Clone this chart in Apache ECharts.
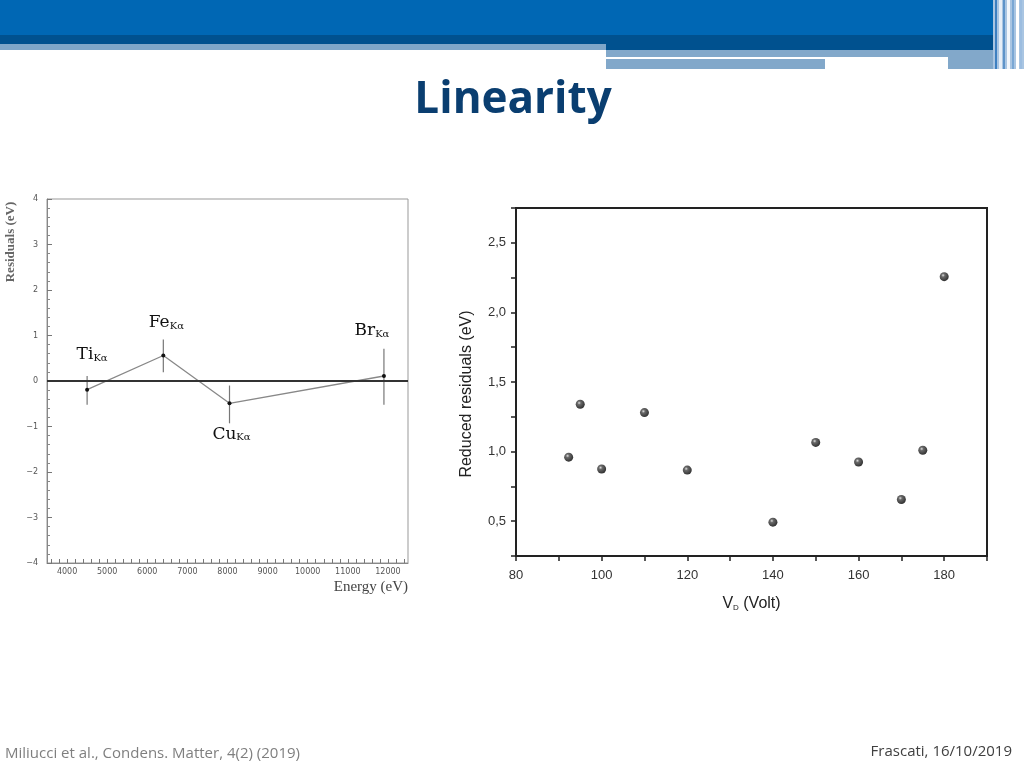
<!DOCTYPE html>
<html>
<head>
<meta charset="utf-8">
<script src="https://cdn.jsdelivr.net/npm/echarts@6/dist/echarts.min.js"></script>
<style>
  html, body { margin: 0; padding: 0; background: #fff; }
  #chart { width: 1024px; height: 768px; }
</style>
</head>
<body>
<div id="chart"></div>
<script>
// ---------- Left chart data: residuals vs energy ----------
const lineNames = ['Ti', 'Fe', 'Cu', 'Br'];
const lineSub = 'Kα';
const energies = [4500, 6400, 8050, 11900];
const residuals = [-0.19, 0.56, -0.49, 0.11];
const errLow = [-0.52, 0.19, -0.93, -0.52];
const errHigh = [0.11, 0.91, -0.10, 0.71];
const energyLabelTicks = [4000, 5000, 6000, 7000, 8000, 9000, 10000, 11000, 12000];
const energyMinorTicks = [3600, 3800, 4000, 4200, 4400, 4600, 4800, 5000, 5200, 5400, 5600, 5800,
  6000, 6200, 6400, 6600, 6800, 7000, 7200, 7400, 7600, 7800, 8000, 8200, 8400, 8600, 8800,
  9000, 9200, 9400, 9600, 9800, 10000, 10200, 10400, 10600, 10800, 11000, 11200, 11400,
  11600, 11800, 12000, 12200, 12400];

// ---------- Right chart data: reduced residuals vs V_D ----------
const vd = [92.3, 95, 100, 110, 120, 140, 150, 160, 170, 175, 180];
const reducedResiduals = [0.96, 1.34, 0.875, 1.28, 0.867, 0.493, 1.066, 0.925, 0.656, 1.01, 2.257];

// label placement (style, relative to each point)
const labelOffsets = [[5, -35], [3, -33], [2, 31], [-12, -45]];

const chart = echarts.init(document.getElementById('chart'), null, { renderer: 'canvas' });

const richLabel = {
  m: { fontFamily: 'DejaVu Serif', fontSize: 17, color: '#111', verticalAlign: 'top', lineHeight: 17, padding: [0, 0, 4, 0] },
  s: { fontFamily: 'DejaVu Serif', fontSize: 10, color: '#111', verticalAlign: 'bottom', lineHeight: 10 }
};

const lineData = energies.map((e, i) => ({
  value: [e, residuals[i]],
  label: {
    show: true,
    position: 'inside',
    offset: labelOffsets[i],
    formatter: '{m|' + lineNames[i] + '}{s|' + lineSub + '}',
    rich: richLabel
  }
}));

const errData = energies.map((e, i) => [e, errLow[i], errHigh[i]]);
const scatterData = vd.map((v, i) => [v, reducedResiduals[i]]);

const minusFmt = v => String(v).replace('-', '\u2212');

const option = {
  animation: false,
  backgroundColor: '#ffffff',
  graphic: [
    // header bands
    { type: 'rect', shape: { x: 0, y: 0, width: 1024, height: 35 }, style: { fill: '#0067b4' }, z: 1 },
    { type: 'rect', shape: { x: 0, y: 35, width: 1024, height: 9 }, style: { fill: '#00518f' }, z: 1 },
    { type: 'rect', shape: { x: 0, y: 44, width: 606, height: 6 }, style: { fill: '#7fa6c9' }, z: 1 },
    { type: 'rect', shape: { x: 606, y: 44, width: 418, height: 6 }, style: { fill: '#00518f' }, z: 1 },
    { type: 'rect', shape: { x: 606, y: 50, width: 390, height: 7 }, style: { fill: '#82a8ca' }, z: 1 },
    { type: 'rect', shape: { x: 606, y: 57, width: 342, height: 2 }, style: { fill: '#ffffff' }, z: 1 },
    { type: 'rect', shape: { x: 606, y: 59, width: 219, height: 10 }, style: { fill: '#82a8ca' }, z: 1 },
    { type: 'rect', shape: { x: 948, y: 57, width: 48, height: 12 }, style: { fill: '#82a8ca' }, z: 1 },
    // right-edge stripes
    { type: 'rect', shape: { x: 993, y: 0, width: 31, height: 69 }, style: { fill: '#a9c5e2' }, z: 1 },
    { type: 'rect', shape: { x: 995, y: 0, width: 2, height: 69 }, style: { fill: '#3d7fc0' }, z: 2 },
    { type: 'rect', shape: { x: 999, y: 0, width: 3, height: 69 }, style: { fill: '#e6eef7' }, z: 2 },
    { type: 'rect', shape: { x: 1003, y: 0, width: 2, height: 69 }, style: { fill: '#5d93c9' }, z: 2 },
    { type: 'rect', shape: { x: 1007, y: 0, width: 3, height: 69 }, style: { fill: '#f2f6fb' }, z: 2 },
    { type: 'rect', shape: { x: 1012, y: 0, width: 2, height: 69 }, style: { fill: '#7aa7d4' }, z: 2 },
    { type: 'rect', shape: { x: 1016, y: 0, width: 3, height: 69 }, style: { fill: '#ffffff' }, z: 2 },
    { type: 'rect', shape: { x: 1020, y: 0, width: 2, height: 69 }, style: { fill: '#9cbde0' }, z: 2 },
    // title
    { type: 'text', x: 513, y: 100, style: { text: 'Linearity', fontFamily: 'Open Sans', fontWeight: 'bold', fontSize: 44, fill: '#0a3e70', align: 'center', verticalAlign: 'middle' }, z: 5 },
    // left y-axis name
    { type: 'text', x: 11, y: 242, rotation: Math.PI / 2, style: { text: 'Residuals (eV)', fontFamily: 'Liberation Serif', fontWeight: 'bold', fontSize: 13, fill: '#666', align: 'center', verticalAlign: 'middle' }, z: 5 },
    // footer
    { type: 'text', x: 5, y: 754, style: { text: 'Miliucci et al., Condens. Matter, 4(2) (2019)', fontFamily: 'Open Sans', fontSize: 15, fill: '#7f7f7f', align: 'left', verticalAlign: 'middle' }, z: 5 },
    { type: 'text', x: 1012, y: 752, style: { text: 'Frascati, 16/10/2019', fontFamily: 'Open Sans', fontSize: 15, fill: '#404040', align: 'right', verticalAlign: 'middle' }, z: 5 }
  ],
  grid: [
    { left: 47, top: 199, width: 361, height: 364, show: true, borderColor: '#999', borderWidth: 1, backgroundColor: 'transparent' },
    { left: 516, top: 208, width: 471, height: 348, show: true, borderColor: '#222', borderWidth: 2, backgroundColor: 'transparent' }
  ],
  xAxis: [
    {
      gridIndex: 0, type: 'value', min: 3500, max: 12500,
      axisLine: { onZero: false, lineStyle: { color: '#888', width: 1 } },
      axisTick: { show: true, inside: true, length: 4, customValues: energyMinorTicks, lineStyle: { color: '#777' } },
      axisLabel: { customValues: energyLabelTicks, fontFamily: 'DejaVu Sans', fontSize: 8, color: '#555', margin: 5, formatter: v => String(v) },
      splitLine: { show: false },
      name: 'Energy (eV)', nameLocation: 'end', nameGap: 0,
      nameTextStyle: { fontFamily: 'Liberation Serif', fontSize: 15, color: '#444', align: 'right', verticalAlign: 'top', padding: [17, 0, 0, 0] }
    },
    {
      gridIndex: 1, type: 'value', min: 80, max: 190, interval: 10,
      axisLine: { onZero: false, lineStyle: { color: '#222', width: 2 } },
      axisTick: { show: true, inside: false, length: 5, lineStyle: { color: '#222', width: 1.5 } },
      axisLabel: {
        fontFamily: 'Liberation Sans', fontSize: 13, color: '#333', margin: 13,
        formatter: v => (Math.round(v) % 20 === 0 ? String(Math.round(v)) : '')
      },
      splitLine: { show: false },
      name: '{v|V}{d|D}{v| (Volt)}', nameLocation: 'middle', nameGap: 40,
      nameTextStyle: {
        rich: {
          v: { fontFamily: 'Liberation Sans', fontSize: 16, color: '#222', verticalAlign: 'top', lineHeight: 16, padding: [0, 0, 6, 0] },
          d: { fontFamily: 'Liberation Sans', fontSize: 8, color: '#222', verticalAlign: 'bottom', lineHeight: 8 }
        }
      }
    }
  ],
  yAxis: [
    {
      gridIndex: 0, type: 'value', min: -4, max: 4, interval: 1,
      axisLine: { onZero: false, lineStyle: { color: '#888', width: 1 } },
      axisTick: { show: true, inside: true, length: 5, lineStyle: { color: '#777' } },
      minorTick: { show: true, splitNumber: 5, length: 3, lineStyle: { color: '#888' } },
      axisLabel: { fontFamily: 'DejaVu Sans', fontSize: 8, color: '#555', margin: 9, formatter: minusFmt },
      splitLine: { show: false }
    },
    {
      gridIndex: 1, type: 'value', min: 0.25, max: 2.75, interval: 0.25,
      axisLine: { onZero: false, lineStyle: { color: '#222', width: 2 } },
      axisTick: { show: true, inside: false, length: 5, lineStyle: { color: '#222', width: 1.5 } },
      axisLabel: {
        fontFamily: 'Liberation Sans', fontSize: 13, color: '#333', margin: 10,
        formatter: v => (Math.abs(v * 2 - Math.round(v * 2)) < 1e-6 ? v.toFixed(1).replace('.', ',') : '')
      },
      splitLine: { show: false },
      name: 'Reduced residuals (eV)', nameLocation: 'middle', nameRotate: 90, nameGap: 41,
      nameTextStyle: { fontFamily: 'Liberation Sans', fontSize: 16, color: '#222', padding: [0, 24, 0, 0] }
    }
  ],
  series: [
    {
      type: 'custom', xAxisIndex: 0, yAxisIndex: 0, data: errData,
      encode: { x: 0, y: [1, 2] },
      renderItem: (params, api) => {
        const x = api.value(0);
        const p1 = api.coord([x, api.value(1)]);
        const p2 = api.coord([x, api.value(2)]);
        return { type: 'line', shape: { x1: p1[0], y1: p1[1], x2: p2[0], y2: p2[1] }, style: { stroke: '#777', lineWidth: 1.2 } };
      },
      z: 2
    },
    {
      type: 'line', xAxisIndex: 0, yAxisIndex: 0, data: lineData,
      symbol: 'circle', symbolSize: 4,
      itemStyle: { color: '#111' },
      lineStyle: { color: '#888', width: 1.3 },
      markLine: {
        silent: true, symbol: 'none', label: { show: false },
        lineStyle: { color: '#333', width: 2, type: 'solid' },
        data: [{ yAxis: 0 }]
      },
      z: 3
    },
    {
      type: 'scatter', xAxisIndex: 1, yAxisIndex: 1, data: scatterData,
      symbol: 'circle', symbolSize: 9,
      itemStyle: {
        color: {
          type: 'radial', x: 0.38, y: 0.35, r: 0.65,
          colorStops: [{ offset: 0, color: '#d8d8d8' }, { offset: 0.3, color: '#444' }, { offset: 1, color: '#000' }]
        }
      }
    }
  ]
};

chart.setOption(option);
</script>
</body>
</html>
